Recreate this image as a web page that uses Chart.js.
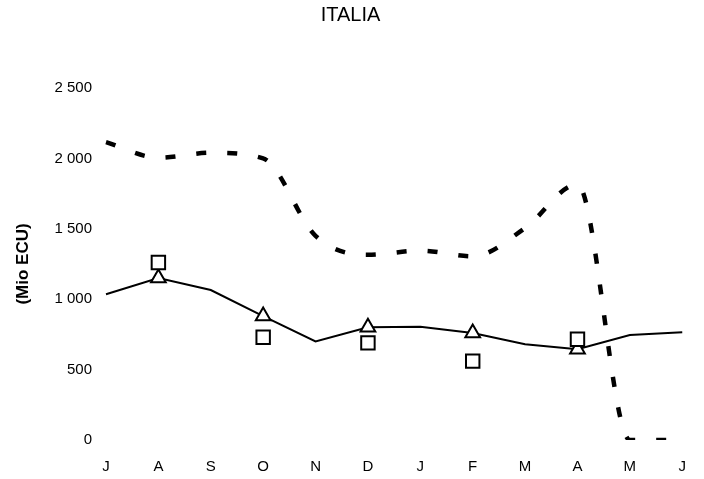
<!DOCTYPE html>
<html>
<head>
<meta charset="utf-8">
<script src="https://cdn.jsdelivr.net/npm/chart.js@4"></script>
<style>
  html, body { margin: 0; padding: 0; background: #fff; }
  #wrap { width: 704px; height: 479px; position: relative; }
</style>
</head>
<body>
<div id="wrap"><canvas id="chart"></canvas></div>
<script>
// data (Mio ECU)
var months    = ['J', 'A', 'S', 'O', 'N', 'D', 'J', 'F', 'M', 'A', 'M', 'J'];
var lineSolid = [1035, 1150, 1065, 880, 700, 800, 805, 760, 680, 645, 745, 765];
var lineDash  = [2115, 2005, 2040, 2000, 1450, 1315, 1345, 1305, 1505, 1815, 0, 0];
var triangles = [null, 1150, null, 880, null, 800, null, 760, null, 645, null, null];
var squares   = [null, 1260, null, 730, null, 690, null, 560, null, 715, null, null];
var yTicks    = [0, 500, 1000, 1500, 2000, 2500];

var FONT = "'Liberation Sans', Arial, sans-serif";

function fmt(v) {
  return String(v).replace(/\B(?=(\d{3})+(?!\d))/g, ' ');
}

new Chart(document.getElementById('chart'), {
  type: 'line',
  data: {
    labels: months,
    datasets: [
      {
        data: squares,
        showLine: false,
        pointStyle: 'rect',
        pointRadius: 9.5,
        pointBorderWidth: 2,
        pointBorderColor: '#000',
        pointBackgroundColor: '#fff'
      },
      {
        data: triangles,
        showLine: false,
        pointStyle: 'triangle',
        pointRadius: 8.5,
        pointBorderWidth: 2,
        pointBorderColor: '#000',
        pointBackgroundColor: '#fff'
      },
      {
        data: lineSolid,
        borderColor: '#000',
        borderWidth: 2,
        pointRadius: 0,
        tension: 0
      },
      {
        data: lineDash,
        borderColor: '#000',
        borderWidth: 4.5,
        borderDash: [10, 21],
        pointRadius: 0,
        cubicInterpolationMode: 'monotone'
      }
    ]
  },
  options: {
    responsive: true,
    maintainAspectRatio: false,
    animation: false,
    layout: { padding: { left: 13, right: 16, bottom: 4 } },
    plugins: {
      legend: { display: false },
      tooltip: { enabled: false },
      title: {
        display: true,
        text: 'ITALIA',
        color: '#000',
        font: { family: FONT, size: 20, weight: 'normal' },
        padding: { top: 3, bottom: 61 }
      }
    },
    scales: {
      x: {
        offset: false,
        grid: { display: false, drawTicks: false },
        border: { display: false },
        afterFit: function (s) { s.height = 35; },
        ticks: {
          color: '#000',
          padding: 18,
          maxRotation: 0,
          autoSkip: false,
          font: { family: FONT, size: 15 }
        }
      },
      y: {
        min: 0,
        max: 2500,
        grid: { display: false, drawTicks: false },
        border: { display: false },
        afterBuildTicks: function (s) {
          s.ticks = yTicks.map(function (v) { return { value: v }; });
        },
        afterFit: function (s) { s.width = 93; },
        title: {
          display: true,
          text: '(Mio ECU)',
          color: '#000',
          font: { family: FONT, size: 17, weight: 'bold' },
          padding: { top: 0, bottom: 0 }
        },
        ticks: {
          color: '#000',
          padding: 14,
          font: { family: FONT, size: 15 },
          callback: function (v) { return fmt(v); }
        }
      }
    }
  }
});
</script>
</body>
</html>
